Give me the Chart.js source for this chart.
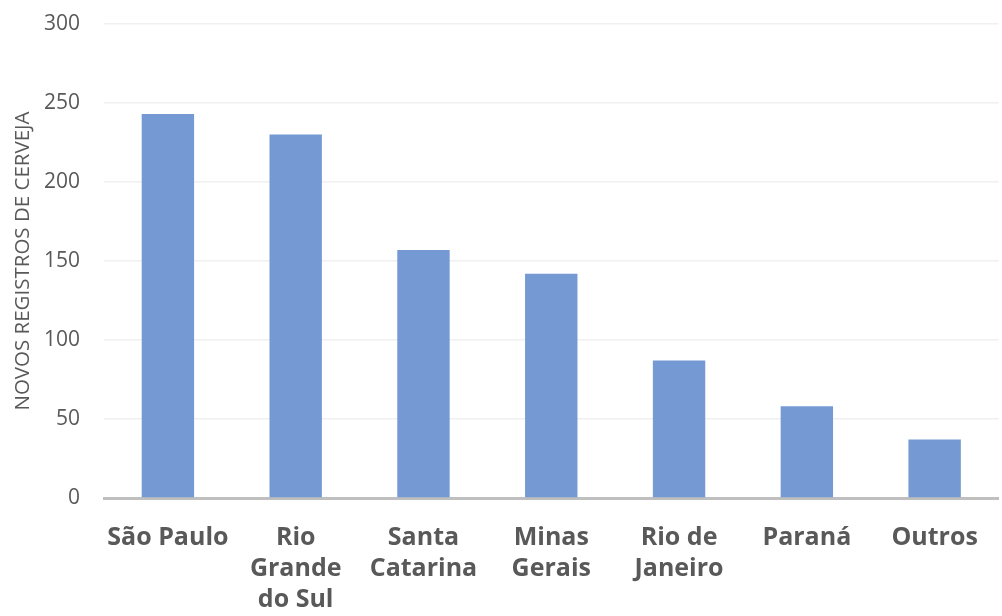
<!DOCTYPE html>
<html>
<head>
<meta charset="utf-8">
<script src="https://cdn.jsdelivr.net/npm/chart.js@4/dist/chart.umd.min.js"></script>
<style>
  html, body { margin: 0; padding: 0; background: #fff; }
  #wrap { width: 1002px; height: 616px; }
</style>
</head>
<body>
<div id="wrap"><canvas id="chart"></canvas></div>
<script>
const states = [
    'São Paulo',
    ['Rio', 'Grande', 'do Sul'],
    ['Santa', 'Catarina'],
    ['Minas', 'Gerais'],
    ['Rio de', 'Janeiro'],
    'Paraná',
    'Outros'
];
const registros = [243, 230, 157, 142, 87, 58, 37];
const yTicks = [0, 50, 100, 150, 200, 250, 300];

const barColor = '#7499d3';
const textColor = '#595959';

// BAR
const dataBar = {
    labels: states,
    datasets: [{
        data: registros,
        backgroundColor: barColor,
        borderWidth: 0,
        categoryPercentage: 1,
        barPercentage: 0.41
    }]
};

const barConf = {
    type: 'bar',
    data: dataBar,
    options: {
        responsive: true,
        maintainAspectRatio: false,
        animation: false,
        layout: {
            padding: { top: 24, left: 2, right: 2, bottom: 0 }
        },
        plugins: {
            legend: { display: false },
            tooltip: { enabled: false }
        },
        scales: {
            x: {
                grid: { display: false, drawTicks: false },
                border: { display: true, color: '#bfbfbf', width: 3 },
                ticks: {
                    color: textColor,
                    padding: 24,
                    maxRotation: 0,
                    autoSkip: false,
                    font: { family: 'Open Sans', size: 25, weight: 'bold', lineHeight: 1.24 }
                },
                // chart.js keeps the tick padding on both sides, drop the outer one
                afterFit: (scale) => { scale.height = 118; }
            },
            y: {
                min: 0,
                max: 300,
                afterBuildTicks: (scale) => {
                    scale.ticks = yTicks.map(v => ({ value: v }));
                },
                grid: { color: '#f0f0f0', lineWidth: 1.5, drawTicks: false },
                border: { display: false },
                ticks: {
                    color: textColor,
                    padding: 24,
                    font: { family: 'Open Sans', size: 21 }
                },
                title: {
                    display: true,
                    text: 'NOVOS REGISTROS DE CERVEJA',
                    color: textColor,
                    padding: { top: 9, bottom: 0 },
                    font: { family: 'Open Sans', size: 20.5 }
                },
                afterFit: (scale) => {
                    scale.width = 102;
                    scale.paddingTop = 0;
                }
            }
        }
    }
};

const createBarChart = (element) => {
    return new Chart(element, barConf);
};

createBarChart(document.getElementById('chart'));
</script>
</body>
</html>
